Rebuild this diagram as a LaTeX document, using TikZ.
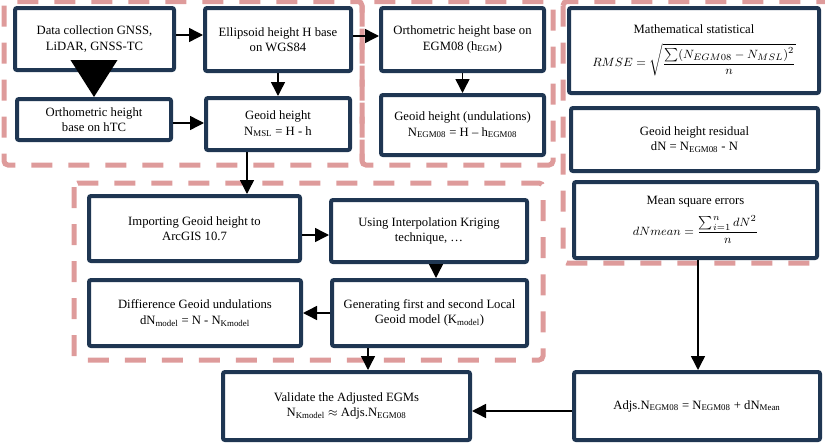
\documentclass[tikz,border=0pt]{standalone}
\usepackage{fontspec}
\setmainfont{Liberation Serif}
\usepackage{tikz}
\usepackage{xcolor}
\usetikzlibrary{arrows.meta,positioning,calc}
\definecolor{Navy}{HTML}{1F3652}
\definecolor{Rose}{HTML}{DE9B9B}

\begin{document}
\begin{tikzpicture}[x=0.75pt,y=-0.75pt,
  box/.style={draw=Navy,line width=3pt,fill=white,rounded corners=1.5pt,align=center,inner sep=1pt,
    font=\fontsize{9.5}{11.5}\selectfont},
  zone/.style={draw=Rose,line width=3.75pt,dash pattern=on 15.75pt off 12pt,rounded corners=3pt},
  arr/.style={-{Triangle[length=10.5pt,width=10.5pt]},line width=1.1pt}]
  \useasboundingbox (0,0) rectangle (825,443);
  % dashed groups
  \draw[zone] (4,1.5) rectangle (362,165);
  \draw[zone] (362,1.5) rectangle (553,165);
  \draw[zone] (563,1.5) rectangle (832,263);
  \draw[zone] (74,183) rectangle (543,360);
  % boxes
  \node[box,minimum width=119.25pt,minimum height=46.5pt] (data) at (94.5,39) {Data collection GNSS,\\LiDAR, GNSS-TC};
  \node[box,minimum width=109.5pt,minimum height=47.25pt] (ell) at (278,39.5) {Ellipsoid height H base\\on WGS84};
  \node[box,minimum width=115.5pt,minimum height=30.75pt] (htc) at (94,119.5) {Orthometric height\\base on hTC};
  \node[box,minimum width=108pt,minimum height=39pt] (msl) at (278,124) {Geoid height\\N\textsubscript{MSL} = H - h};
  \node[box,minimum width=122.25pt,minimum height=47.25pt] (egm) at (462.5,39.5) {Orthometric height base on\\EGM08 (h\textsubscript{EGM})};
  \node[box,minimum width=122.25pt,minimum height=45pt] (und) at (462.5,125) {Geoid height (undulations)\\N\textsubscript{EGM08} = H -- h\textsubscript{EGM08}};
  \node[box,minimum width=187.5pt,minimum height=63.75pt] (rmse) at (694,50.5) {Mathematical statistical\\[6pt]
    $\displaystyle RMSE=\sqrt{\frac{\textstyle\sum(N_{EGM08}-N_{MSL})^2}{n}}$};
  \node[box,minimum width=185.25pt,minimum height=47.25pt] (res) at (694.5,139.5) {Geoid height residual\\dN = N\textsubscript{EGM08} - N};
  \node[box,minimum width=182.25pt,minimum height=57pt] (mean) at (695.5,220) {Mean square errors\\[5pt]
    $\displaystyle dNmean=\frac{\textstyle\sum_{i=1}^{n} dN^2}{n}$};
  \node[box,minimum width=158.25pt,minimum height=48.75pt] (imp) at (194.5,228.5) {Importing Geoid height to\\ArcGIS 10.7};
  \node[box,minimum width=147pt,minimum height=46.5pt] (krig) at (429,231) {Using Interpolation Kriging\\technique, \ldots};
  \node[box,minimum width=159pt,minimum height=49.5pt] (diff) at (195,313) {Diffierence Geoid undulations\\dN\textsubscript{model} = N - N\textsubscript{Kmodel}};
  \node[box,minimum width=146.25pt,minimum height=49.5pt] (gen) at (429.5,313) {Generating first and second Local\\Geoid model (K\textsubscript{model})};
  \node[box,minimum width=185.25pt,minimum height=51pt] (val) at (346.5,406) {Validate the Adjusted EGMs\\N\textsubscript{Kmodel} $\approx$ Adjs.N\textsubscript{EGM08}};
  \node[box,minimum width=184.5pt,minimum height=51pt] (adj) at (697,406) {Adjs.N\textsubscript{EGM08} = N\textsubscript{EGM08} + dN\textsubscript{Mean}};
  % connectors
  \draw[arr] (data.east |- 0,35) -- (ell.west |- 0,35);
  \draw[arr] (ell.east |- 0,36) -- (egm.west |- 0,36);
  \draw[arr] (ell) -- (msl);
  \draw[-{Triangle[length=27.75pt,width=35pt]},line width=1.1pt] (data.south -| htc.north) -- (htc.north);
  \draw[arr] (htc.east |- 0,123) -- (msl.west |- 0,123);
  \draw[arr] (egm) -- (und);
  \draw[arr] ([xshift=-23.25pt]msl.south) -- ([xshift=-23.25pt]msl.south |- imp.north);
  \draw[arr] (imp.east |- 0,235) -- (krig.west |- 0,235);
  \draw[arr] (krig.south -| 436,0) -- (gen.north -| 436,0);
  \draw[arr] (gen.west) -- (diff.east);
  \draw[arr] (gen.south -| 368,0) -- (val.north -| 368,0);
  \draw[arr] (mean.south -| 698,0) -- (adj.north -| 698,0);
  \draw[arr] (adj.west |- 0,411) -- (val.east |- 0,411);
\end{tikzpicture}
\end{document}
